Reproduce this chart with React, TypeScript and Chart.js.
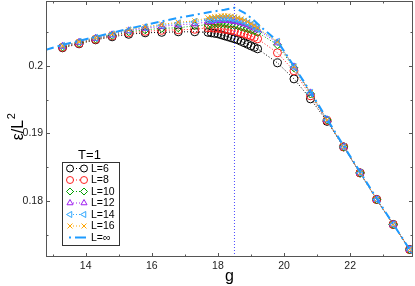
import React, { useEffect, useRef } from "react";
import { Chart, registerables } from "chart.js";
import { drawPoint } from "chart.js/helpers";

Chart.register(...registerables);

// g values where finite-L data were sampled
const gFinite = [
  13.3, 13.8, 14.3, 14.8, 15.3, 15.8, 16.3, 16.8, 17.3,
  17.7, 17.8, 17.9, 18.0, 18.1, 18.2, 18.3, 18.4, 18.5, 18.6, 18.7, 18.8, 18.9, 19.0, 19.1, 19.2,
  19.8, 20.3, 20.8, 21.3, 21.8, 22.3, 22.8, 23.3, 23.8,
];

const eL6 = [
  0.20267, 0.20326, 0.20385, 0.2043, 0.20467, 0.20489, 0.20496, 0.20504, 0.20504,
  0.20496, 0.20489, 0.20481, 0.20474, 0.20459, 0.20444, 0.2043, 0.20415, 0.204, 0.20385, 0.20363, 0.20341, 0.20319, 0.20296, 0.20274, 0.20252,
  0.20044, 0.19807, 0.19511, 0.19178, 0.188, 0.18415, 0.18022, 0.17652, 0.17281,
];
const eL8 = [
  0.20274, 0.20333, 0.20393, 0.20444, 0.20489, 0.20511, 0.20526, 0.20533, 0.20541,
  0.20563, 0.20563, 0.20556, 0.20556, 0.20548, 0.20541, 0.20533, 0.20526, 0.20519, 0.20504, 0.20489, 0.20474, 0.20459, 0.20444, 0.20422, 0.204,
  0.20193, 0.19926, 0.19556, 0.19193, 0.188, 0.18415, 0.18022, 0.17652, 0.17281,
];
const eL10 = [
  0.20281, 0.20341, 0.204, 0.20452, 0.20504, 0.20533, 0.20556, 0.20563, 0.20593,
  0.20607, 0.20615, 0.20622, 0.20622, 0.20622, 0.20622, 0.20615, 0.20607, 0.206, 0.20593, 0.20578, 0.20563, 0.20548, 0.20533, 0.20519, 0.20496,
  0.20311, 0.1997, 0.19585, 0.192, 0.188, 0.18415, 0.18022, 0.17652, 0.17281,
];
const eL12 = [
  0.20289, 0.20348, 0.20407, 0.20459, 0.20519, 0.20556, 0.20585, 0.20607, 0.20622,
  0.20652, 0.20659, 0.20667, 0.20674, 0.20674, 0.20674, 0.20674, 0.20667, 0.20659, 0.20652, 0.20637, 0.20622, 0.20607, 0.20585, 0.20563, 0.20533,
  0.20341, 0.19985, 0.196, 0.192, 0.188, 0.18415, 0.18022, 0.17652, 0.17281,
];
const eL14 = [
  0.20296, 0.20356, 0.20415, 0.20467, 0.20526, 0.2057, 0.206, 0.2063, 0.20652,
  0.20681, 0.20689, 0.20696, 0.20704, 0.20711, 0.20711, 0.20711, 0.20704, 0.20696, 0.20681, 0.20667, 0.20652, 0.2063, 0.20607, 0.20578, 0.20548,
  0.20356, 0.19985, 0.196, 0.192, 0.188, 0.18415, 0.18022, 0.17652, 0.17281,
];
const eL16 = [
  0.20296, 0.20356, 0.20415, 0.20474, 0.20533, 0.20578, 0.20615, 0.20644, 0.20667,
  0.20711, 0.20719, 0.20726, 0.20733, 0.20741, 0.20741, 0.20741, 0.20733, 0.20726, 0.20711, 0.20696, 0.20674, 0.20652, 0.20622, 0.20593, 0.20563,
  0.20356, 0.19993, 0.19607, 0.192, 0.188, 0.18415, 0.18022, 0.17652, 0.17281,
];

// extrapolated L = infinity curve
const gInf = [12.8, 13.3, 13.8, 14.3, 14.8, 15.3, 15.8, 16.3, 16.8, 17.3, 17.8, 18.2, 18.5, 18.8, 19.0, 19.2, 19.4, 19.8, 20.3, 20.8, 21.3, 21.8, 22.3, 22.8, 23.3, 23.8, 23.9];
const eInf = [0.20237, 0.20311, 0.2037, 0.2043, 0.20489, 0.20548, 0.20607, 0.20659, 0.20711, 0.20756, 0.208, 0.2083, 0.20859, 0.20785, 0.20711, 0.20622, 0.20533, 0.2037, 0.19993, 0.19615, 0.19215, 0.18815, 0.1843, 0.18037, 0.17659, 0.17281, 0.17215];

const gCritical = 18.5;

const xTickLabels = [14, 16, 18, 20, 22];
const yTickLabels = [0.18, 0.19, 0.2];

const seriesLabels = ["L=6", "L=8", "L=10", "L=12", "L=14", "L=16", "L=\u221E"];
const legendTitle = "T=1";
const xTitle = "g";
const yTitleMain = "\u03B5/L";
const yTitleSup = "2";

const xMin = 12.8;
const xMax = 23.9;
const yMin = 0.1717;
const yMax = 0.2096;

const FONT = "'Liberation Sans', Arial, Helvetica, sans-serif";

export default function App() {
  const ref = useRef<HTMLCanvasElement | null>(null);

  useEffect(() => {
    document.body.style.margin = "0";
    const canvas = ref.current!;
    const finiteSets = [eL6, eL8, eL10, eL12, eL14, eL16];
    const colors = ["#000000", "#ff2020", "#00a000", "#a020f0", "#30a8ff", "#ffa500"];
    const styles: any[] = ["circle", "circle", "rectRot", "triangle", "triangle", "crossRot"];
    const rotations = [0, 0, 0, 0, -90, 0];
    const radii = [4, 4, 4, 4, 4, 3.5];

    const datasets: any[] = finiteSets.map((arr, i) => ({
      label: seriesLabels[i],
      data: gFinite.map((g, k) => ({ x: g, y: arr[k] })),
      borderColor: colors[i],
      backgroundColor: "rgba(0,0,0,0)",
      pointBorderColor: colors[i],
      pointBackgroundColor: "rgba(0,0,0,0)",
      pointStyle: styles[i],
      pointRotation: rotations[i],
      pointRadius: radii[i],
      pointBorderWidth: 1,
      borderWidth: 1,
      borderDash: [1, 2],
      showLine: true,
      tension: 0,
      order: 10 - i,
    }));
    datasets.push({
      label: seriesLabels[6],
      data: gInf.map((g, k) => ({ x: g, y: eInf[k] })),
      borderColor: "#1e9bff",
      backgroundColor: "rgba(0,0,0,0)",
      pointRadius: 0,
      borderWidth: 2,
      borderDash: [8, 4, 2, 4],
      showLine: true,
      tension: 0,
      order: 1,
    });
    datasets.push({
      label: "crit",
      data: [
        { x: gCritical, y: yMin },
        { x: gCritical, y: yMax },
      ],
      borderColor: "#4a4aff",
      borderWidth: 1,
      borderDash: [1, 2],
      pointRadius: 0,
      showLine: true,
      order: 0,
    });

    const framePlugin = {
      id: "frame",
      afterDraw(chart: any) {
        const ctx = chart.ctx;
        const a = chart.chartArea;
        const xs = chart.scales.x;
        const ys = chart.scales.y;
        ctx.save();
        ctx.strokeStyle = "#555";
        ctx.lineWidth = 1;
        ctx.setLineDash([]);
        ctx.strokeRect(a.left + 0.5, a.top + 0.5, a.right - a.left - 1, a.bottom - a.top - 1);
        // x ticks
        for (let v = 13; v <= 23; v++) {
          const px = Math.round(xs.getPixelForValue(v)) + 0.5;
          const len = v % 2 === 0 ? 4 : 2.5;
          ctx.beginPath();
          ctx.moveTo(px, a.bottom);
          ctx.lineTo(px, a.bottom - len);
          ctx.moveTo(px, a.top);
          ctx.lineTo(px, a.top + len);
          ctx.stroke();
        }
        for (let k = 35; k <= 41; k++) {
          const v = k * 0.005;
          const py = Math.round(ys.getPixelForValue(v)) + 0.5;
          const len = k % 2 === 0 ? 4 : 2.5;
          ctx.beginPath();
          ctx.moveTo(a.left, py);
          ctx.lineTo(a.left + len, py);
          ctx.moveTo(a.right, py);
          ctx.lineTo(a.right - len, py);
          ctx.stroke();
        }
        // tick labels
        ctx.fillStyle = "#222";
        ctx.font = `10.5px ${FONT}`;
        ctx.textAlign = "center";
        ctx.textBaseline = "top";
        xTickLabels.forEach((v) => {
          ctx.fillText(String(v), xs.getPixelForValue(v), a.bottom + 4);
        });
        ctx.textAlign = "right";
        ctx.textBaseline = "middle";
        yTickLabels.forEach((v) => {
          ctx.fillText(String(v), a.left - 3, ys.getPixelForValue(v));
        });
        // x title
        ctx.fillStyle = "#000";
        ctx.font = `16px ${FONT}`;
        ctx.textAlign = "center";
        ctx.textBaseline = "alphabetic";
        ctx.fillText(xTitle, (a.left + a.right) / 2, 281);
        // y title with superscript
        ctx.save();
        ctx.translate(17, 127);
        ctx.rotate(-Math.PI / 2);
        ctx.fillStyle = "#000";
        ctx.textBaseline = "alphabetic";
        ctx.textAlign = "left";
        ctx.font = `16px ${FONT}`;
        const wMain = ctx.measureText(yTitleMain).width;
        ctx.font = `11px ${FONT}`;
        const wSup = ctx.measureText(yTitleSup).width;
        const x0 = -(wMain + wSup) / 2;
        ctx.font = `16px ${FONT}`;
        ctx.fillText(yTitleMain, x0, 6);
        ctx.font = `11px ${FONT}`;
        ctx.fillText(yTitleSup, x0 + wMain + 0.5, -2);
        ctx.restore();
        // legend
        const bx = 62, by = 162, bw = 57, bh = 83;
        ctx.fillStyle = "#000";
        ctx.font = `13px ${FONT}`;
        ctx.textAlign = "center";
        ctx.textBaseline = "middle";
        ctx.fillText(legendTitle, bx + bw / 2 - 1, 155);
        ctx.fillStyle = "#fff";
        ctx.fillRect(bx, by, bw, bh);
        ctx.strokeStyle = "#333";
        ctx.strokeRect(bx + 0.5, by + 0.5, bw, bh);
        const dsets = chart.data.datasets;
        for (let i = 0; i < 7; i++) {
          const ds = dsets[i];
          const y = 168.5 + i * 11.5;
          const x1 = 70, x2 = 84;
          ctx.save();
          ctx.strokeStyle = ds.borderColor;
          if (i < 6) {
            ctx.lineWidth = 1;
            ctx.setLineDash([1, 2]);
            ctx.beginPath();
            ctx.moveTo(x1 + 3, y);
            ctx.lineTo(x2 - 3, y);
            ctx.stroke();
            ctx.setLineDash([]);
            const opts: any = { pointStyle: ds.pointStyle, rotation: ds.pointRotation, radius: 3.5, borderWidth: 1 };
            ctx.fillStyle = "rgba(0,0,0,0)";
            ctx.strokeStyle = ds.borderColor;
            drawPoint(ctx, opts, x1, y);
            drawPoint(ctx, opts, x2, y);
          } else {
            ctx.lineWidth = 2;
            ctx.setLineDash([]);
            ctx.beginPath();
            ctx.moveTo(69, y);
            ctx.lineTo(71, y);
            ctx.moveTo(75, y);
            ctx.lineTo(86, y);
            ctx.stroke();
          }
          ctx.restore();
          ctx.fillStyle = "#000";
          ctx.font = `10.5px ${FONT}`;
          ctx.textAlign = "left";
          ctx.textBaseline = "middle";
          ctx.fillText(ds.label, 91, y + 0.5);
        }
        ctx.restore();
      },
    };

    const chart = new Chart(canvas, {
      type: "line",
      data: { datasets },
      options: {
        animation: false,
        responsive: false,
        maintainAspectRatio: false,
        layout: { autoPadding: false, padding: { top: 1, right: 2, left: 0, bottom: 0 } },
        plugins: { legend: { display: false }, tooltip: { enabled: false } },
        scales: {
          x: {
            type: "linear",
            min: xMin,
            max: xMax,
            grid: { display: false, drawTicks: false },
            border: { display: false },
            ticks: { display: false },
            afterFit: (s: any) => {
              s.height = 29;
            },
          },
          y: {
            type: "linear",
            min: yMin,
            max: yMax,
            grid: { display: false, drawTicks: false },
            border: { display: false },
            ticks: { display: false },
            afterFit: (s: any) => {
              s.width = 46;
            },
          },
        },
      },
      plugins: [framePlugin],
    });

    return () => chart.destroy();
  }, []);

  return (
    <div style={{ width: 415, height: 286 }}>
      <canvas ref={ref} width={415} height={286} style={{ width: 415, height: 286, display: "block" }} />
    </div>
  );
}
